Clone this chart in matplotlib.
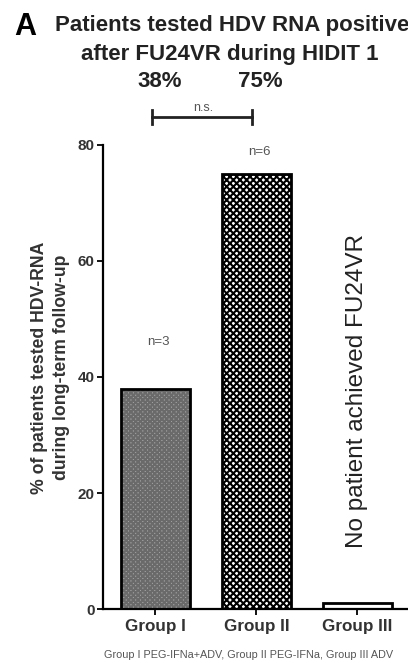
import matplotlib.pyplot as plt

plt.rcParams['font.family'] = ['Liberation Sans', 'DejaVu Sans']
plt.rcParams['hatch.linewidth'] = 1.5

groups = ["Group I", "Group II", "Group III"]
pct_positive = [38, 75, 1]
n_labels = ["n=3", "n=6", ""]
header_pcts = ["38%", "75%"]
y_ticks = [0, 20, 40, 60, 80]

fig = plt.figure(figsize=(4.08, 6.63), dpi=100)
ax = fig.add_axes([0.252, 0.0814, 0.748, 0.70])

x = list(range(len(groups)))
width = 0.69

# bar fills (texture via hatch), then black outlines on top
ax.bar(x[0], pct_positive[0], width, color="#a2a2a2", edgecolor="#6a6a6a",
       hatch="xxxxxxx", linewidth=0)
ax.bar(x[1], pct_positive[1], width, color="white", edgecolor="black",
       hatch="xxxxx", linewidth=0)
ax.bar(x[2], pct_positive[2], width, color="white", linewidth=0)
ax.bar(x, pct_positive, width, fill=False, edgecolor="black", linewidth=2)

for xi, v, lab in zip(x, pct_positive, n_labels):
    if lab:
        ax.text(xi + 0.03, min(v + 8, 78.8), lab, ha="center", va="center",
                fontsize=9.5, color="#555555")

ax.text(2.0, 37.6, "No patient achieved FU24VR", rotation=90,
        ha="center", va="center", fontsize=17.5, color="#222222")

ax.set_xlim(-0.52, 2.5)
ax.set_ylim(0, 80)
ax.set_yticks(y_ticks)
ax.set_yticklabels([str(t) for t in y_ticks], fontsize=11, fontweight="bold",
                   color="#333333")
ax.set_xticks(x)
ax.set_xticklabels(groups, fontsize=12.3, fontweight="bold", color="#333333")
ax.tick_params(axis="y", length=4, width=1.3, pad=2)
ax.tick_params(axis="x", length=4, width=1.3, pad=3)
for s in ["top", "right"]:
    ax.spines[s].set_visible(False)
for s in ["left", "bottom"]:
    ax.spines[s].set_linewidth(1.6)

ax.set_ylabel("% of patients tested HDV-RNA\nduring long-term follow-up",
              fontsize=12.7, fontweight="bold", color="#333333",
              linespacing=1.4)
ax.yaxis.set_label_coords(-0.107, 0.52)

# significance bracket and headline percentages above the axes
ax.plot([-0.03, 0.96], [84.8, 84.8], color="#222222", lw=2, clip_on=False)
for xb in [-0.03, 0.96]:
    ax.plot([xb, xb], [83.6, 86.0], color="#222222", lw=2, clip_on=False)
ax.text(0.47, 86.4, "n.s.", ha="center", va="center", fontsize=9,
        color="#555555")
for xi, t in zip(x[:2], header_pcts):
    ax.text(xi + 0.04, 90.9, t, ha="center", va="center", fontsize=16,
            fontweight="bold", color="#222222")

fig.text(0.035, 0.960, "A", ha="left", va="center", fontsize=22,
         fontweight="bold")
fig.text(0.568, 0.962, "Patients tested HDV RNA positive", ha="center",
         va="center", fontsize=16, fontweight="bold", color="#222222")
fig.text(0.563, 0.918, "after FU24VR during HIDIT 1", ha="center",
         va="center", fontsize=16, fontweight="bold", color="#222222")

fig.text(0.61, 0.012, "Group I PEG-IFNa+ADV, Group II PEG-IFNa, Group III ADV",
         ha="center", va="center", fontsize=7.8, color="#555555")

fig.savefig("out.png", dpi=100)
